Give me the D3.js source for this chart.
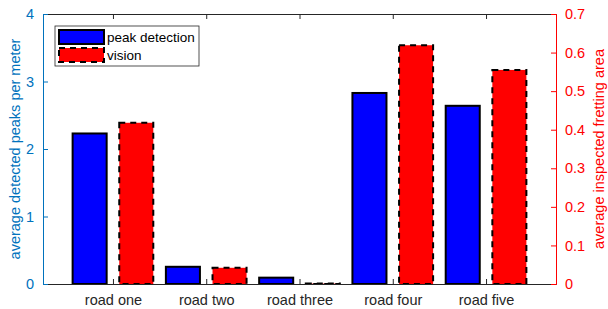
<!DOCTYPE html>
<html>
<head>
<meta charset="utf-8">
<script src="https://cdn.jsdelivr.net/npm/d3@7"></script>
<style>
  body { margin: 0; background: #fff; }
  svg { display: block; font-family: "Liberation Sans", Arial, sans-serif; }
</style>
</head>
<body>
<svg id="chart" width="608" height="309"></svg>
<script>
// data
const roads = ['road one', 'road two', 'road three', 'road four', 'road five'];
const peaksPerMeter = [2.23, 0.255, 0.094, 2.83, 2.64];
const frettingArea = [0.418, 0.042, 0.001, 0.619, 0.555];
const leftTicks = [0, 1, 2, 3, 4];
const rightTicks = [0, 0.1, 0.2, 0.3, 0.4, 0.5, 0.6, 0.7];

const blueAxis = '#0072bd';
const redAxis = '#ff0000';
const darkAxis = '#262626';

const svg = d3.select('#chart');
const margin = { top: 14, right: 52, bottom: 25, left: 43 };
const width = 608 - margin.left - margin.right;
const height = 309 - margin.top - margin.bottom;

const g = svg.append('g').attr('transform', `translate(${margin.left},${margin.top})`);

// category positions: 1..5 on a linear axis from 0.25 to 5.75
const x = d3.scaleLinear().domain([0.25, 5.75]).range([0, width]);
const yLeft = d3.scaleLinear().domain([0, 4]).range([height, 0]);
const yRight = d3.scaleLinear().domain([0, 0.7]).range([height, 0]);

const step = x(2) - x(1);
const barW = step * 0.365;
const offset = step * 0.25;

// blue bars
g.selectAll('rect.peak')
  .data(peaksPerMeter)
  .enter()
  .append('rect')
  .attr('class', 'peak')
  .attr('x', (d, i) => x(i + 1) - offset - barW / 2)
  .attr('y', (d) => yLeft(d))
  .attr('width', barW)
  .attr('height', (d) => height - yLeft(d))
  .attr('fill', '#0000ff')
  .attr('stroke', '#000')
  .attr('stroke-width', 2);

// red bars, dashed outline
g.selectAll('rect.vision')
  .data(frettingArea)
  .enter()
  .append('rect')
  .attr('class', 'vision')
  .attr('x', (d, i) => x(i + 1) + offset - barW / 2)
  .attr('y', (d) => yRight(d))
  .attr('width', barW)
  .attr('height', (d) => height - yRight(d))
  .attr('fill', '#ff0000')
  .attr('stroke', '#000')
  .attr('stroke-width', 2)
  .attr('stroke-dasharray', '6,5');

// bottom axis
const xAxis = g.append('g')
  .attr('transform', `translate(0,${height})`)
  .call(d3.axisBottom(x).tickValues([1, 2, 3, 4, 5])
    .tickFormat((d) => roads[d - 1]).tickSize(-5).tickPadding(11));
xAxis.select('.domain').attr('stroke', darkAxis);
xAxis.selectAll('.tick line').attr('stroke', darkAxis);
xAxis.selectAll('text').attr('fill', darkAxis).style('font-size', '14.5px');

// top axis
const topAxis = g.append('g')
  .call(d3.axisTop(x).tickValues([1, 2, 3, 4, 5]).tickFormat('').tickSize(-5));
topAxis.select('.domain').attr('stroke', darkAxis);
topAxis.selectAll('.tick line').attr('stroke', darkAxis);

// left axis
const leftAxis = g.append('g')
  .call(d3.axisLeft(yLeft).tickValues(leftTicks).tickSize(-5).tickPadding(9)
    .tickFormat(d3.format('d')));
leftAxis.select('.domain').attr('stroke', blueAxis);
leftAxis.selectAll('.tick line').attr('stroke', blueAxis);
leftAxis.selectAll('text').attr('fill', blueAxis).style('font-size', '14.5px');

// right axis
const rightAxis = g.append('g')
  .attr('transform', `translate(${width},0)`)
  .call(d3.axisRight(yRight).tickValues(rightTicks).tickSize(-5).tickPadding(9)
    .tickFormat((d) => (d === 0 ? '0' : d3.format('.1f')(d))));
rightAxis.select('.domain').attr('stroke', redAxis);
rightAxis.selectAll('.tick line').attr('stroke', redAxis);
rightAxis.selectAll('text').attr('fill', redAxis).style('font-size', '14.5px');

// axis titles
svg.append('text')
  .attr('transform', `translate(20,${margin.top + height / 2}) rotate(-90)`)
  .attr('text-anchor', 'middle')
  .attr('fill', blueAxis)
  .style('font-size', '14.5px')
  .text('average detected peaks per meter');

svg.append('text')
  .attr('transform', `translate(604,${margin.top + height / 2}) rotate(-90)`)
  .attr('text-anchor', 'middle')
  .attr('fill', redAxis)
  .style('font-size', '14.5px')
  .text('average inspected fretting area');

// legend
const legend = svg.append('g').attr('transform', 'translate(55,26)');
legend.append('rect')
  .attr('width', 144).attr('height', 40)
  .attr('fill', '#fff').attr('stroke', '#262626').attr('stroke-width', 0.8);
const items = [
  { label: 'peak detection', fill: '#0000ff', dash: null },
  { label: 'vision', fill: '#ff0000', dash: '6,5' },
];
items.forEach((d, i) => {
  legend.append('rect')
    .attr('x', 4).attr('y', 4 + i * 18)
    .attr('width', 45).attr('height', 14)
    .attr('fill', d.fill).attr('stroke', '#000').attr('stroke-width', 2)
    .attr('stroke-dasharray', d.dash);
  legend.append('text')
    .attr('x', 52).attr('y', 16 + i * 18)
    .attr('fill', '#000')
    .style('font-size', '13.5px')
    .text(d.label);
});
</script>
</body>
</html>
